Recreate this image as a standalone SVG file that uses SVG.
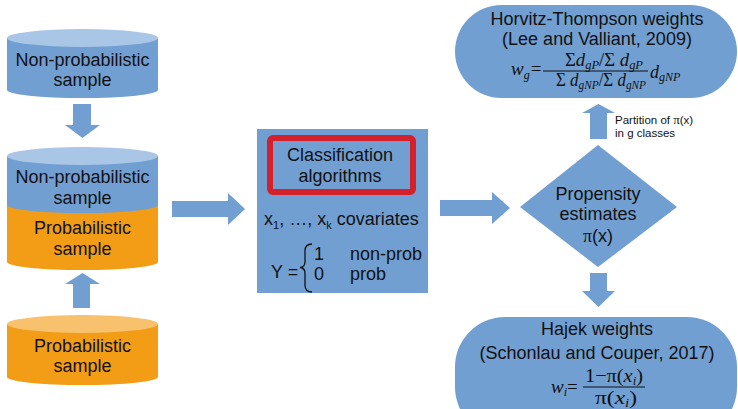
<svg xmlns="http://www.w3.org/2000/svg" width="738" height="409" viewBox="0 0 738 409">
  <defs>
    <style>
      .blue { fill: #719fd2; }
      .blue-top { fill: #a9c6e7; }
      .orange { fill: #f39c15; }
      .orange-top { fill: #f7c16d; }
      .lbl { font-family: "Liberation Sans", Arial, sans-serif; font-size: 18px; fill: #111; text-anchor: middle; }
      .lbl-l { font-family: "Liberation Sans", Arial, sans-serif; font-size: 18px; fill: #111; }
      .small { font-family: "Liberation Sans", Arial, sans-serif; font-size: 11.5px; fill: #111; }
      .math { font-family: "Liberation Serif", "Times New Roman", serif; font-size: 19px; fill: #111; }
      .math-s { font-family: "Liberation Serif", "Times New Roman", serif; font-size: 18px; fill: #111; }
      .it { font-style: italic; }
      .sub { font-style: italic; font-size: 12px; }
    </style>
  </defs>

  <!-- connectors: block arrows -->
  <g id="connectors" class="blue">
    <polygon points="73,104 91,104 91,125 100,125 82.5,138 65,125 73,125"/>
    <polygon points="73,308 90,308 90,284 100,284 82.5,273 65,284 73,284"/>
    <polygon points="172,201 228,201 228,193 245,209 228,225 228,217 172,217"/>
    <polygon points="440,200 492,200 492,192 510,208 492,224 492,216 440,216"/>
    <polygon points="590,139 607,139 607,113 615,113 598.5,104 582,113 590,113"/>
    <polygon points="590,273 607,273 607,291 615,291 598.5,307 582,291 590,291"/>
  </g>

  <!-- non-probabilistic sample store -->
  <g id="np-sample">
    <path class="blue" d="M7,38 L7,90 A75.5,8 0 0 0 158,90 L158,38 Z"/>
    <ellipse class="blue-top" cx="82.5" cy="38" rx="75.5" ry="9"/>
    <text class="lbl" x="82.5" y="66">Non-probabilistic</text>
    <text class="lbl" x="82.5" y="86">sample</text>
  </g>

  <!-- combined sample store -->
  <g id="combined-sample">
    <path class="orange" d="M7,205 L7,262 A75.5,8 0 0 0 158,262 L158,205 Z"/>
    <path class="blue" d="M7,156 L7,205 A75.5,8 0 0 0 158,205 L158,156 Z"/>
    <ellipse class="blue-top" cx="82.5" cy="156" rx="75.5" ry="9"/>
    <text class="lbl" x="82.5" y="183">Non-probabilistic</text>
    <text class="lbl" x="82.5" y="204">sample</text>
    <text class="lbl" x="82.5" y="234">Probabilistic</text>
    <text class="lbl" x="82.5" y="255">sample</text>
  </g>

  <!-- probabilistic sample store -->
  <g id="p-sample">
    <path class="orange" d="M7,324 L7,377 A75.5,8 0 0 0 158,377 L158,324 Z"/>
    <ellipse class="orange-top" cx="82.5" cy="324" rx="75.5" ry="9"/>
    <text class="lbl" x="82.5" y="352">Probabilistic</text>
    <text class="lbl" x="82.5" y="372">sample</text>
  </g>

  <!-- classification block -->
  <g id="classifier">
    <rect class="blue" x="257" y="129" width="171" height="164"/>
    <rect x="270" y="138" width="143" height="54" rx="3" fill="none" stroke="#d3202a" stroke-width="6"/>
    <text class="lbl" x="340" y="161">Classification</text>
    <text class="lbl" x="340" y="182">algorithms</text>
    <text class="lbl-l" x="264" y="225">x<tspan font-size="11" dy="4">1</tspan><tspan dy="-4">, …, x</tspan><tspan font-size="11" dy="4">k</tspan><tspan dy="-4"> covariates</tspan></text>
    <text class="lbl-l" x="271" y="278">Y =</text>
    <path d="M312,244 Q305,244 305,251 L305,262 Q305,267 300,267.5 Q305,268 305,273 L305,285 Q305,292 312,292" fill="none" stroke="#111" stroke-width="1.3"/>
    <text class="lbl-l" x="314" y="260">1</text>
    <text class="lbl-l" x="314" y="280">0</text>
    <text class="lbl-l" x="350" y="260">non-prob</text>
    <text class="lbl-l" x="350" y="280">prob</text>
  </g>

  <!-- propensity estimates decision -->
  <g id="propensity">
    <polygon class="blue" points="520,207 598,145 677,207 598,267"/>
    <text class="lbl" x="598" y="200">Propensity</text>
    <text class="lbl" x="598" y="220">estimates</text>
    <text class="lbl" x="598" y="242"><tspan font-family="Liberation Serif, serif">π</tspan>(x)</text>
  </g>

  <!-- partition note -->
  <g id="partition-note">
    <text class="small" x="615" y="124">Partition of  <tspan font-family="Liberation Serif, serif" font-size="13">π</tspan>(x)</text>
    <text class="small" x="615" y="137">in g classes</text>
  </g>

  <!-- Horvitz-Thompson weights -->
  <g id="ht-weights">
    <rect class="blue" x="455" y="5" width="282" height="93" rx="46.5"/>
    <text class="lbl" x="597" y="25">Horvitz-Thompson weights</text>
    <text class="lbl" x="597" y="45">(Lee and Valliant, 2009)</text>
    <text class="math" x="511" y="75"><tspan class="it">w</tspan><tspan class="sub" dy="4">g</tspan><tspan dy="-4" dx="1">=</tspan></text>
    <text class="math-s" x="565" y="66" textLength="78" lengthAdjust="spacingAndGlyphs">Σ<tspan class="it">d</tspan><tspan class="sub" dy="3">gP</tspan><tspan dy="-3">/Σ </tspan><tspan class="it">d</tspan><tspan class="sub" dy="3">gP</tspan></text>
    <line x1="543" y1="71" x2="648" y2="71" stroke="#111" stroke-width="1"/>
    <text class="math-s" x="556" y="86" textLength="90" lengthAdjust="spacingAndGlyphs">Σ <tspan class="it">d</tspan><tspan class="sub" dy="3">gNP</tspan><tspan dy="-3">/Σ </tspan><tspan class="it">d</tspan><tspan class="sub" dy="3">gNP</tspan></text>
    <text class="math-s" x="650" y="78"><tspan class="it">d</tspan><tspan class="sub" dy="3">gNP</tspan></text>
  </g>

  <!-- Hajek weights -->
  <g id="hajek-weights">
    <rect class="blue" x="455" y="317" width="282" height="120" rx="50"/>
    <text class="lbl" x="597" y="335">Hajek weights</text>
    <text class="lbl" x="597" y="359">(Schonlau and Couper, 2017)</text>
    <text class="math" x="551" y="393"><tspan class="it">w</tspan><tspan class="sub" dy="3">i</tspan><tspan dy="-3">=</tspan></text>
    <text class="math" x="585" y="382" textLength="58" lengthAdjust="spacingAndGlyphs">1−π(<tspan class="it">x</tspan><tspan class="sub" dy="3">i</tspan><tspan dy="-3">)</tspan></text>
    <line x1="583" y1="387" x2="645" y2="387" stroke="#111" stroke-width="1"/>
    <text class="math" x="595" y="404" textLength="42" lengthAdjust="spacingAndGlyphs">π(<tspan class="it">x</tspan><tspan class="sub" dy="3">i</tspan><tspan dy="-3">)</tspan></text>
  </g>
</svg>
